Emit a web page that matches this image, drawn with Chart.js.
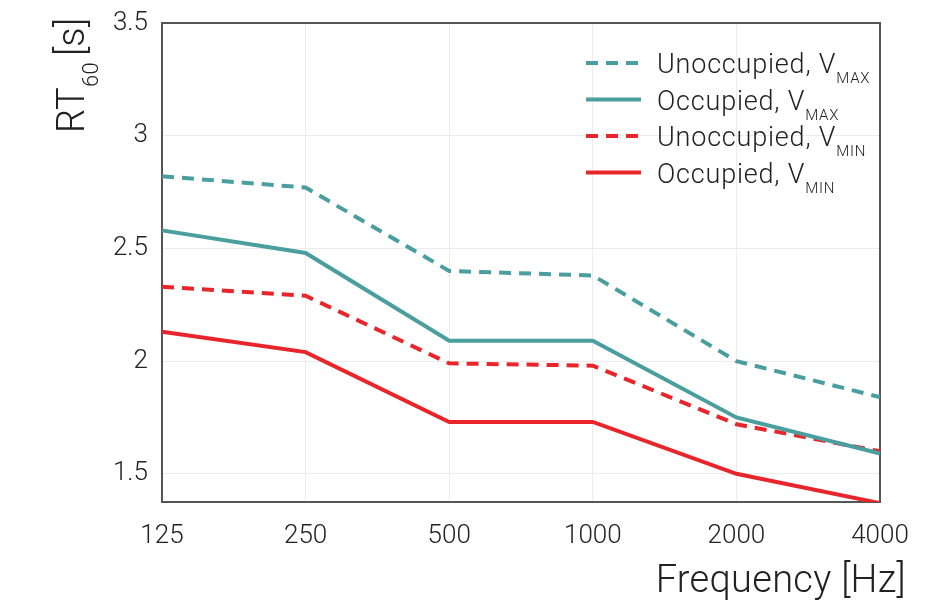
<!DOCTYPE html>
<html>
<head>
<meta charset="utf-8">
<script src="https://cdn.jsdelivr.net/npm/chart.js@4"></script>
<style>
  html, body { margin: 0; padding: 0; background: #fff; }
  #wrap { width: 947px; height: 601px; }
</style>
</head>
<body>
<div id="wrap"><canvas id="rtChart" width="947" height="601"></canvas></div>
<script>
const frequencies = ['125', '250', '500', '1000', '2000', '4000'];
const yTicks = [1.5, 2, 2.5, 3, 3.5];
const unoccupiedVmax = [2.82, 2.77, 2.40, 2.38, 2.00, 1.84];
const occupiedVmax = [2.58, 2.48, 2.09, 2.09, 1.75, 1.59];
const unoccupiedVmin = [2.33, 2.29, 1.99, 1.98, 1.72, 1.60];
const occupiedVmin = [2.13, 2.04, 1.73, 1.73, 1.50, 1.37];
const seriesNames = [['Unoccupied, V', 'MAX'], ['Occupied, V', 'MAX'], ['Unoccupied, V', 'MIN'], ['Occupied, V', 'MIN']];

const teal = '#4a9e9d';
const red = '#e8252a';
const fontName = 'Roboto';

function line(label, data, color, dashed) {
  return {
    label: label,
    data: data,
    borderColor: color,
    backgroundColor: color,
    borderWidth: 4,
    borderDash: dashed ? [12, 8] : [],
    pointRadius: 0,
    tension: 0,
    fill: false
  };
}

// frame, legend and axis titles (subscripts need hand drawing)
const extras = {
  id: 'extras',
  beforeDatasetsDraw(chart) {
    const { ctx, chartArea: a } = chart;
    ctx.save();
    ctx.strokeStyle = '#555';
    ctx.lineWidth = 2;
    ctx.strokeRect(a.left, a.top, a.right - a.left, a.bottom - a.top);
    ctx.restore();
  },
  afterDraw(chart) {
    const ctx = chart.ctx;
    ctx.save();
    ctx.fillStyle = '#222';
    ctx.textBaseline = 'alphabetic';

    // legend
    chart.data.datasets.forEach((ds, i) => {
      const y = 63 + i * 36.5;
      ctx.strokeStyle = ds.borderColor;
      ctx.lineWidth = 4;
      ctx.setLineDash(ds.borderDash);
      ctx.beginPath();
      ctx.moveTo(586, y);
      ctx.lineTo(641, y);
      ctx.stroke();
      ctx.setLineDash([]);
      ctx.letterSpacing = '0.8px';
      ctx.font = '300 27px ' + fontName;
      ctx.fillText(seriesNames[i][0], 657, y + 10);
      const w = ctx.measureText(seriesNames[i][0]).width;
      ctx.font = '300 15px ' + fontName;
      ctx.fillText(seriesNames[i][1], 657 + w, y + 20);
    });

    // x title
    ctx.letterSpacing = '0.3px';
    ctx.font = '300 38px ' + fontName;
    ctx.textAlign = 'right';
    ctx.fillText('Frequency [Hz]', 906, 592);

    // y title
    ctx.textAlign = 'left';
    ctx.translate(84, 133);
    ctx.rotate(-Math.PI / 2);
    ctx.font = '300 38px ' + fontName;
    ctx.fillText('RT', 0, 0);
    let x = ctx.measureText('RT').width;
    ctx.font = '300 22px ' + fontName;
    ctx.fillText('60', x, 14);
    x += ctx.measureText('60').width + 6;
    ctx.font = '300 38px ' + fontName;
    ctx.fillText('[s]', x, 0);
    ctx.restore();
  }
};

new Chart(document.getElementById('rtChart'), {
  type: 'line',
  data: {
    labels: frequencies,
    datasets: [
      line('Unoccupied, VMAX', unoccupiedVmax, teal, true),
      line('Occupied, VMAX', occupiedVmax, teal, false),
      line('Unoccupied, VMIN', unoccupiedVmin, red, true),
      line('Occupied, VMIN', occupiedVmin, red, false)
    ]
  },
  options: {
    responsive: false,
    animation: false,
    layout: { padding: { top: 23, right: 67, left: 0, bottom: 0 } },
    plugins: {
      legend: { display: false },
      tooltip: { enabled: false }
    },
    scales: {
      x: {
        offset: false,
        grid: { color: '#ececec', lineWidth: 1, drawTicks: false },
        border: { display: false },
        ticks: {
          color: '#222',
          padding: 19,
          maxRotation: 0,
          font: { family: fontName, weight: '300', size: 26 }
        },
        afterFit: s => { s.height = 99; s.paddingLeft = 0; s.paddingRight = 0; }
      },
      y: {
        min: 1.375,
        max: 3.5,
        grid: { color: '#ececec', lineWidth: 1, drawTicks: false },
        border: { display: false },
        ticks: {
          color: '#222',
          padding: 14,
          font: { family: fontName, weight: '300', size: 26 },
          callback: v => String(v)
        },
        afterBuildTicks: s => { s.ticks = yTicks.map(v => ({ value: v })); },
        afterFit: s => { s.width = 162; s.paddingTop = 0; s.paddingBottom = 0; }
      }
    }
  },
  plugins: [extras]
});
</script>
</body>
</html>
